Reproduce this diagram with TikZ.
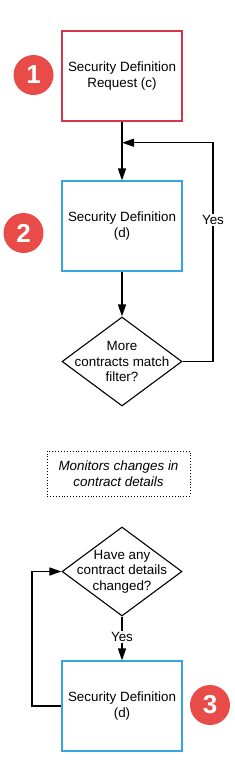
\documentclass[tikz,border=0pt]{standalone}
\usepackage{fontspec}
\setmainfont{Liberation Sans}
\usetikzlibrary{shapes.geometric,arrows.meta}
\definecolor{redb}{HTML}{D5354A}
\definecolor{blueb}{HTML}{33A6E2}
\definecolor{badgec}{HTML}{E84B48}
\begin{document}
\begin{tikzpicture}[x=1pt,y=-1pt,
  font=\fontsize{13.4}{15.5}\selectfont,
  box/.style={draw, line width=1.1pt, minimum width=120pt, minimum height=90pt, align=center, inner sep=0pt},
  diam/.style={draw, shape=diamond, line width=1.1pt, minimum width=120pt, minimum height=89pt, inner sep=0pt},
  dtext/.style={align=center, inner sep=0pt},
  badge/.style={circle, fill=badgec, minimum size=40pt, inner sep=0pt, text=white, font=\fontsize{26}{26}\selectfont\bfseries},
  arr/.style={line width=1.4pt, -{Triangle[length=12pt,width=8pt]}},
  yeslab/.style={fill=white, inner sep=1.5pt},
  note/.style={draw, dotted, line width=0.9pt, minimum width=143pt, minimum height=45pt, align=center, inner sep=0pt, font=\fontsize{13.4}{15.5}\selectfont\itshape}
]
\useasboundingbox (0,0) rectangle (234,777);
% nodes
\node[box, draw=redb] (b1) at (122,76) {Security Definition\\Request (c)};
\node[badge] (n1) at (33.5,75) {1};
\node[box, draw=blueb] (b2) at (122,226) {Security Definition\\(d)};
\node[badge] (n2) at (23.5,233) {2};
\node[diam] (d1) at (122,361.5) {};
\node[dtext] (t1) at (d1.center) {More\\contracts match\\filter?};
\node[note] (nt) at (118.5,473.5) {Monitors changes in\\contract details};
\node[diam] (d2) at (122,571.5) {};
\node[dtext] (t2) at (d2.center) {Have any\\contract details\\changed?};
\node[box, draw=blueb] (b3) at (122,706) {Security Definition\\(d)};
\node[badge] (n3) at (210,705) {3};
% coordinates
\coordinate (j) at (122,142.7);
\coordinate (fr) at (213,142.7);
\coordinate (fl) at (32,706);
% connectors
\draw[arr] (b1.south) -- (b2.north);
\draw[arr] (b2.south) -- (d1.north);
\draw[arr] (d1.east) -| (fr) -- (j);
\node[yeslab] (y1) at (213,220) {Yes};
\draw[arr] (d2.south) -- (b3.north);
\node[yeslab] (y2) at (122,637) {Yes};
\draw[arr] (b3.west) -- (fl) |- (d2.west);
\end{tikzpicture}
\end{document}
